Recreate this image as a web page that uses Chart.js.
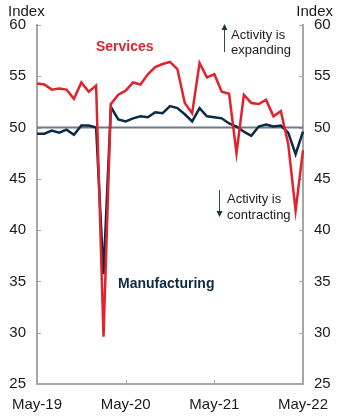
<!DOCTYPE html>
<html>
<head>
<meta charset="utf-8">
<script src="https://cdn.jsdelivr.net/npm/chart.js@4.4.1/dist/chart.umd.min.js"></script>
<style>
  html, body { margin: 0; padding: 0; background: #fff; }
</style>
</head>
<body>
<canvas id="pmi" width="340" height="420"></canvas>
<script>
// Monthly PMI readings, May-19 to May-22
const MONTHS = [
  'May-19', 'Jun-19', 'Jul-19', 'Aug-19', 'Sep-19', 'Oct-19', 'Nov-19', 'Dec-19',
  'Jan-20', 'Feb-20', 'Mar-20', 'Apr-20', 'May-20', 'Jun-20', 'Jul-20', 'Aug-20',
  'Sep-20', 'Oct-20', 'Nov-20', 'Dec-20', 'Jan-21', 'Feb-21', 'Mar-21', 'Apr-21',
  'May-21', 'Jun-21', 'Jul-21', 'Aug-21', 'Sep-21', 'Oct-21', 'Nov-21', 'Dec-21',
  'Jan-22', 'Feb-22', 'Mar-22', 'Apr-22', 'May-22'
];
const SERVICES = [
  54.3, 54.2, 53.7, 53.8, 53.7, 52.8, 54.4, 53.5,
  54.1, 29.6, 52.3, 53.2, 53.6, 54.4, 54.2, 55.2,
  55.9, 56.2, 56.4, 55.7, 52.4, 51.4, 56.3, 54.9,
  55.2, 53.5, 53.3, 47.5, 53.2, 52.4, 52.3, 52.7,
  51.1, 51.6, 48.4, 41.9, 47.8
];
const MANUFACTURING = [
  49.4, 49.4, 49.7, 49.5, 49.8, 49.3, 50.2, 50.2,
  50.0, 35.7, 52.0, 50.8, 50.6, 50.9, 51.1, 51.0,
  51.5, 51.4, 52.1, 51.9, 51.3, 50.6, 51.9, 51.1,
  51.0, 50.9, 50.4, 50.1, 49.6, 49.2, 50.1, 50.3,
  50.1, 50.2, 49.5, 47.4, 49.6
];
const X_TICK_LABELS = ['May-19', 'May-20', 'May-21', 'May-22'];
const Y_TICKS = [25, 30, 35, 40, 45, 50, 55, 60];

const RED = '#e0232c';
const NAVY = '#0b2a45';
const AXIS = '#a6a6a6';
const TEXT = '#1a1a1a';
const FONT = '"Liberation Sans", Arial, sans-serif';

// extras: 50 line, inward tick marks, "Index" titles and annotations
const extras = {
  id: 'extras',
  beforeDatasetsDraw(chart) {
    const { ctx, chartArea: a, scales } = chart;
    ctx.save();
    ctx.strokeStyle = AXIS;
    ctx.lineWidth = 1;
    for (const v of Y_TICKS) {
      const y = Math.round(scales.y.getPixelForValue(v)) + 0.5;
      ctx.beginPath();
      ctx.moveTo(a.left, y); ctx.lineTo(a.left + 4, y);
      ctx.moveTo(a.right, y); ctx.lineTo(a.right - 4, y);
      ctx.stroke();
    }
    MONTHS.forEach((m, i) => {
      if (i % 12 !== 0) return;
      const x = Math.round(scales.x.getPixelForValue(i)) + 0.5;
      ctx.beginPath();
      ctx.moveTo(x, a.bottom); ctx.lineTo(x, a.bottom - 4);
      ctx.stroke();
    });
    const y50 = scales.y.getPixelForValue(50);
    ctx.strokeStyle = '#6c7b85';
    ctx.lineWidth = 2;
    ctx.beginPath();
    ctx.moveTo(a.left, y50); ctx.lineTo(a.right, y50);
    ctx.stroke();
    ctx.restore();
  },
  afterDatasetsDraw(chart) {
    const { ctx, chartArea: a } = chart;
    ctx.save();
    ctx.textBaseline = 'middle';

    ctx.fillStyle = TEXT;
    ctx.font = '15px ' + FONT;
    ctx.textAlign = 'left';
    ctx.fillText('Index', 8, 12);
    ctx.textAlign = 'right';
    ctx.fillText('Index', 333, 12);

    ctx.font = 'bold 14px ' + FONT;
    ctx.textAlign = 'left';
    ctx.fillStyle = RED;
    ctx.fillText('Services', 96, 47);
    ctx.fillStyle = NAVY;
    ctx.fillText('Manufacturing', 118, 284);

    ctx.fillStyle = TEXT;
    ctx.font = '13px ' + FONT;
    ctx.fillText('Activity is', 231, 35);
    ctx.fillText('expanding', 231, 50);
    ctx.fillText('Activity is', 227, 199);
    ctx.fillText('contracting', 227, 215);

    // arrows
    ctx.strokeStyle = '#2e4555';
    ctx.fillStyle = '#1c3447';
    ctx.lineWidth = 1;
    ctx.beginPath();
    ctx.moveTo(224.5, 52); ctx.lineTo(224.5, 28);
    ctx.moveTo(219.5, 190); ctx.lineTo(219.5, 212);
    ctx.stroke();
    ctx.beginPath();
    ctx.moveTo(224.5, 24); ctx.lineTo(221.5, 30); ctx.lineTo(227.5, 30); ctx.closePath();
    ctx.moveTo(219.5, 217); ctx.lineTo(216.5, 211); ctx.lineTo(222.5, 211); ctx.closePath();
    ctx.fill();
    ctx.restore();
  }
};

const yTicks = {
  color: TEXT,
  font: { family: FONT, size: 15 },
  stepSize: 5,
  padding: 11
};

new Chart(document.getElementById('pmi'), {
  type: 'line',
  data: {
    labels: MONTHS,
    datasets: [
      { label: 'Services', data: SERVICES, borderColor: RED, borderWidth: 2.5, pointRadius: 0, tension: 0, yAxisID: 'y' },
      { label: 'Manufacturing', data: MANUFACTURING, borderColor: NAVY, borderWidth: 2.5, pointRadius: 0, tension: 0, yAxisID: 'y' }
    ]
  },
  plugins: [extras],
  options: {
    responsive: false,
    animation: false,
    layout: { padding: { top: 25, left: 0, right: 0, bottom: 0 } },
    plugins: { legend: { display: false }, tooltip: { enabled: false } },
    scales: {
      x: {
        type: 'category',
        offset: false,
        grid: { display: false, drawTicks: false },
        border: { display: true, color: AXIS, width: 2 },
        ticks: {
          autoSkip: false,
          maxRotation: 0,
          padding: 12,
          color: TEXT,
          font: { family: FONT, size: 15 },
          callback: (v, i) => (i % 12 === 0 ? X_TICK_LABELS[i / 12] : null)
        },
        afterFit: s => { s.height = 36; }
      },
      y: {
        position: 'left',
        min: 25, max: 60,
        grid: { display: false, drawTicks: false },
        border: { display: true, color: AXIS, width: 2 },
        ticks: yTicks,
        afterFit: s => { s.width = 36; }
      },
      y2: {
        position: 'right',
        display: true,
        min: 25, max: 60,
        grid: { display: false, drawTicks: false },
        border: { display: true, color: AXIS, width: 2 },
        ticks: yTicks,
        afterFit: s => { s.width = 36; }
      }
    }
  }
});
</script>
</body>
</html>
